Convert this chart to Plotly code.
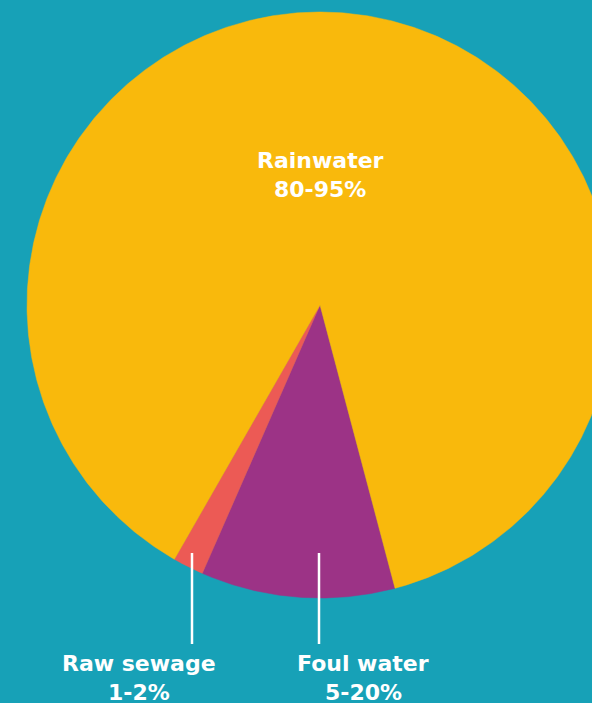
import numpy as np
import plotly.graph_objects as go

# Data
categories = ["Foul water", "Raw sewage", "Rainwater"]
values = [10.7, 1.7, 87.6]
ranges = ["5-20%", "1-2%", "80-95%"]
colors = ["#9C3386", "#EC5A55", "#F9B90C"]

# Style / layout
BG = "#17A1B7"
W, H = 592, 703
CX, CY = 320, 305          # pie centre in page pixels
R = 293                    # radius in pixels
START_DEG = -75.16         # angle of first slice boundary (math convention)
FONT = "DejaVu Sans"

fig = go.Figure()

total = sum(values)
ang = START_DEG
for cat, v, c in zip(categories, values, colors):
    span = 360.0 * v / total
    a = np.radians(np.linspace(ang, ang - span, max(int(span * 2), 8)))
    xs = np.concatenate([[0], R * np.cos(a), [0]])
    ys = np.concatenate([[0], R * np.sin(a), [0]])
    fig.add_trace(go.Scatter(x=xs, y=ys, fill="toself", fillcolor=c, mode="lines",
                             line=dict(color=c, width=0.5), name=cat, hoverinfo="name"))
    ang -= span


def px(x, y):
    return x - CX, CY - y

# labels: (centre x, first line y, second line y) in page pixels
lbl_pos = {"Rainwater": (320, 160, 189), "Foul water": (363, 663, 692), "Raw sewage": (139, 663, 692)}
for cat, rng in zip(categories, ranges):
    cx, y1, y2 = lbl_pos[cat]
    for txt, yy in ((cat, y1), (rng, y2)):
        x, y = px(cx, yy)
        fig.add_annotation(x=x, y=y, text="<b>" + txt + "</b>", showarrow=False,
                           font=dict(family=FONT, size=22, color="white"),
                           xanchor="center", yanchor="middle", align="center")

# leader lines
for lx in (192, 319):
    x0, y0 = px(lx, 553)
    x1, y1 = px(lx, 644)
    fig.add_shape(type="line", x0=x0, y0=y0, x1=x1, y1=y1,
                  line=dict(color="white", width=2.5))

fig.update_layout(
    width=W, height=H, margin=dict(l=0, r=0, t=0, b=0),
    paper_bgcolor=BG, plot_bgcolor=BG, showlegend=False,
    xaxis=dict(range=[-CX, W - CX], visible=False, fixedrange=True),
    yaxis=dict(range=[CY - H, CY], visible=False, fixedrange=True),
)

fig.write_html("out.html", config={"displayModeBar": False})
